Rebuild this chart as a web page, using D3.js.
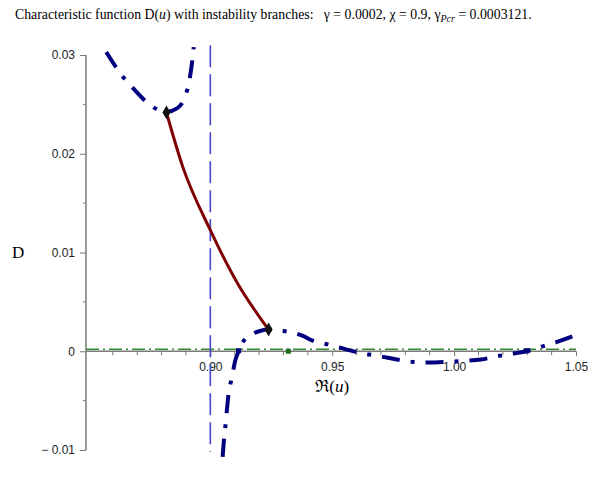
<!DOCTYPE html>
<html><head><meta charset="utf-8">
<script src="https://cdn.jsdelivr.net/npm/d3@7"></script>
<style>
html,body{margin:0;padding:0;background:#fff;}
svg{display:block;}
</style></head>
<body>
<svg id="chart" width="596" height="482"></svg>
<script>
// ---- data ----
const upperU = [0.8573, 0.8635, 0.8697, 0.8754, 0.8820, 0.8863, 0.8898, 0.8914, 0.8925, 0.8932];
const upperD = [0.0303, 0.0280, 0.02627, 0.0249, 0.02425, 0.0246, 0.0259, 0.0274, 0.02925, 0.0308];
const lowerU = [0.90505, 0.90546, 0.90615, 0.9075, 0.90889, 0.91025, 0.9116, 0.9130, 0.9164, 0.9205, 0.9239, 0.9300, 0.9375, 0.9423, 0.9499, 0.9560, 0.9628, 0.9697, 0.9765, 0.9833, 0.9895, 0.9970, 1.0038, 1.0110, 1.0175, 1.0243, 1.0298, 1.0366, 1.0434, 1.0500];
const lowerD = [-0.0107, -0.00935, -0.00767, -0.00429, -0.0026, -0.00091, 0.0, 0.00078, 0.00162, 0.00206, 0.0022, 0.00206, 0.0016, 0.00104, 0.00061, 0.00017, -0.00023, -0.00051, -0.00084, -0.00108, -0.00115, -0.00108, -0.00098, -0.00084, -0.00051, -0.00023, 0.0, 0.00051, 0.00104, 0.00165];
const bridgeU = [0.8820, 0.8887, 0.9000, 0.9112, 0.9239];
const bridgeD = [0.02418, 0.01867, 0.01226, 0.00686, 0.0022];
const gammaLevel = 0.0002;
const poleU = 0.90;
const zeroMarkersU = [0.9116, 1.0298];
const greenMarkerU = [0.932];
const xMajorTicks = [0.90, 0.95, 1.00, 1.05];
const xTickLabels = ["0.90", "0.95", "1.00", "1.05"];
const xMinorTicks = [0.86,0.87,0.88,0.89,0.91,0.92,0.93,0.94,0.96,0.97,0.98,0.99,1.01,1.02,1.03,1.04];
const yMajorTicks = [-0.01, 0, 0.01, 0.02, 0.03];
const yTickLabels = ["\u2212 0.01", "0", "0.01", "0.02", "0.03"];
const yMinorTicks = [-0.005, 0.005, 0.015, 0.025];

const svg = d3.select("#chart");
const x = d3.scaleLinear().domain([0.849, 1.05]).range([86, 576]);
const y = d3.scaleLinear().domain([-0.01, 0.03]).range([450, 55]);

// title
const title = svg.append("text").attr("x", 15).attr("y", 19)
  .attr("font-family", "'Liberation Serif', 'Times New Roman', serif")
  .attr("font-size", 13.8).attr("fill", "#000");
title.append("tspan").text("Characteristic function D(");
title.append("tspan").attr("font-style", "italic").text("u");
title.append("tspan").text(") with instability branches:\u00a0\u00a0 \u03b3 = 0.0002, \u03c7 = 0.9, \u03b3");
title.append("tspan").attr("font-style", "italic").attr("font-size", 10).attr("dy", 3).text("Pcr");
title.append("tspan").attr("dy", -3).text(" = 0.0003121.");

// axes
const axisColor = "#7a7a7a";
const gx = svg.append("g").attr("transform", `translate(0,${y(0)})`);
gx.call(d3.axisBottom(x).tickValues(xMajorTicks).tickFormat((d,i)=>xTickLabels[i]).tickSize(5).tickPadding(6))
  .call(g=>g.select(".domain").remove());
gx.selectAll(".tick line").attr("stroke", axisColor);
gx.selectAll(".tick text").attr("font-family","'Liberation Sans', Arial, sans-serif").attr("font-size",12).attr("fill","#222");
gx.selectAll(".minor").data(xMinorTicks).enter().append("line")
  .attr("x1", d=>x(d)).attr("x2", d=>x(d)).attr("y1", 0).attr("y2", 4).attr("stroke", axisColor);

const gy = svg.append("g").attr("transform", `translate(${x(0.849)},0)`);
gy.call(d3.axisLeft(y).tickValues(yMajorTicks).tickFormat((d,i)=>yTickLabels[i]).tickSize(6).tickPadding(5))
  .call(g=>g.select(".domain").remove());
gy.selectAll(".tick line").attr("stroke", axisColor);
gy.selectAll(".tick text").attr("font-family","'Liberation Sans', Arial, sans-serif").attr("font-size",12).attr("fill","#222");
gy.selectAll(".minor").data(yMinorTicks).enter().append("line")
  .attr("y1", d=>y(d)).attr("y2", d=>y(d)).attr("x1", 0).attr("x2", -3).attr("stroke", axisColor);

// axis lines
svg.append("line").attr("x1", x(0.849)).attr("x2", x(1.05)).attr("y1", y(0)).attr("y2", y(0))
  .attr("stroke", axisColor).attr("stroke-width", 1.5);
svg.append("line").attr("x1", x(0.849)).attr("x2", x(0.849)).attr("y1", y(-0.01)).attr("y2", y(0.03))
  .attr("stroke", axisColor).attr("stroke-width", 1.5);

// axis labels
svg.append("text").attr("x", 12).attr("y", 258)
  .attr("font-family","'Liberation Serif', 'Times New Roman', serif").attr("font-size",17).text("D");
const xl = svg.append("text").attr("x", x(0.95)).attr("y", 392).attr("text-anchor","middle")
  .attr("font-family","'Liberation Serif', 'DejaVu Serif', serif").attr("font-size",17);
xl.append("tspan").text("\u211c(");
xl.append("tspan").attr("font-style","italic").text("u");
xl.append("tspan").text(")");

// green gamma level line
svg.append("line").attr("x1", x(0.849)).attr("x2", x(1.05)).attr("y1", y(gammaLevel)).attr("y2", y(gammaLevel))
  .attr("stroke", "#2e8b2e").attr("stroke-width", 1.6).attr("stroke-dasharray", "13,4,2,4");

// vertical pole line
svg.append("line").attr("x1", x(poleU)).attr("x2", x(poleU)).attr("y1", y(0.031)).attr("y2", y(-0.0102))
  .attr("stroke", "#4646c8").attr("stroke-width", 1.6).attr("stroke-dasharray", "22,7");

const line = d3.line().x(d=>x(d[0])).y(d=>y(d[1])).curve(d3.curveMonotoneX);
const navy = "#00007f";
svg.append("path").datum(d3.zip(upperU, upperD)).attr("d", line)
  .attr("fill","none").attr("stroke",navy).attr("stroke-width",4).attr("stroke-dasharray","18,11,4,11");
svg.append("path").datum(d3.zip(lowerU, lowerD)).attr("d", line)
  .attr("fill","none").attr("stroke",navy).attr("stroke-width",4).attr("stroke-dasharray","18,11,4,11");

// bridge (red)
svg.append("path").datum(d3.zip(bridgeU, bridgeD)).attr("d", line)
  .attr("fill","none").attr("stroke","#7f0000").attr("stroke-width",3);

// markers
svg.selectAll(".zm").data(zeroMarkersU).enter().append("rect")
  .attr("x", d=>x(d)-2.5).attr("y", y(0)-3).attr("width",5).attr("height",5).attr("fill",navy);
svg.selectAll(".gm").data(greenMarkerU).enter().append("rect")
  .attr("x", d=>x(d)-2.5).attr("y", y(0)-2.5).attr("width",5).attr("height",5).attr("fill","#1f6b1f");
const ends = [[bridgeU[0], bridgeD[0]], [bridgeU[bridgeU.length-1], bridgeD[bridgeD.length-1]]];
svg.selectAll(".dm").data(ends).enter().append("path")
  .attr("d", d3.symbol().type(d3.symbolDiamond).size(55))
  .attr("transform", d=>`translate(${x(d[0])},${y(d[1])}) rotate(0)`).attr("fill","#111");
</script>
</body></html>
